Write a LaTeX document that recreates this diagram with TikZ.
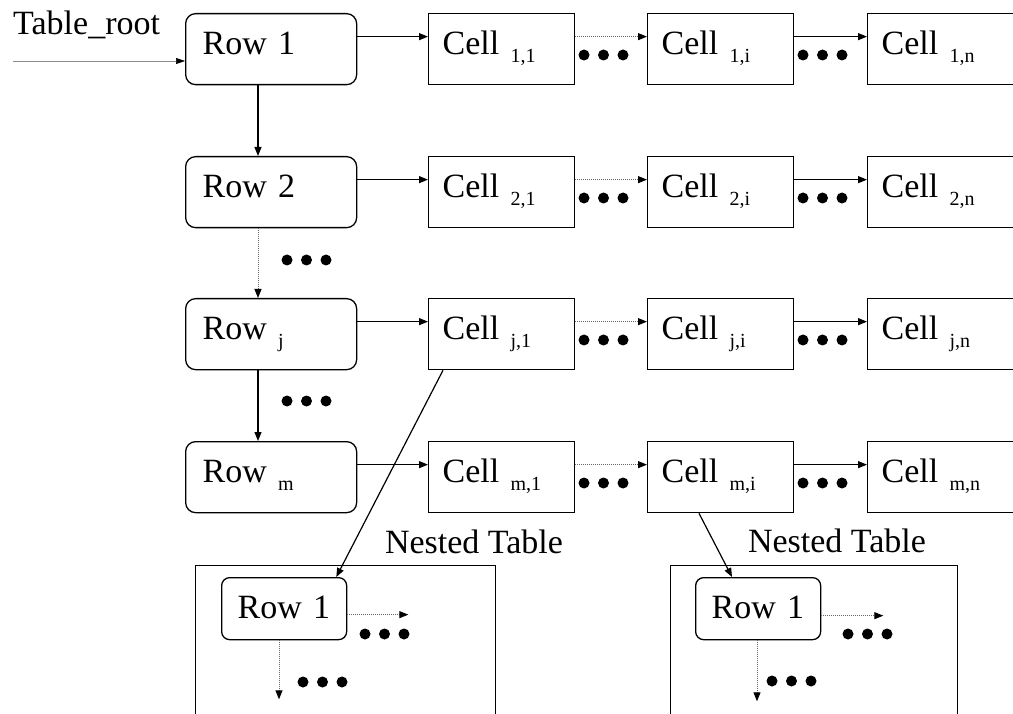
\documentclass[tikz,border=0pt]{standalone}
\usepackage{fontspec}
\setmainfont{Liberation Serif}
\usetikzlibrary{arrows.meta}
\newcommand\mysub[1]{\raisebox{-8pt}{\fontsize{20}{20}\selectfont #1}}
\newcommand\mydots[2]{\foreach \k in {0,1,2}{\fill ({#1+\k*19.5},{#2}) circle (5.5pt);}}
\begin{document}
\begin{tikzpicture}[x=1pt,y=-1pt,
  txt/.style={font=\fontsize{34}{36}\selectfont},
  rowbox/.style={draw, line width=1.3pt, rounded corners=10pt, anchor=north west,
    minimum width=171pt, minimum height=71pt, inner xsep=17pt, inner ysep=0pt,
    text width=137pt, align=left, text height=22pt, text depth=12pt, txt},
  cellbox/.style={draw, line width=1.3pt, anchor=north west,
    minimum width=146pt, minimum height=71pt, inner xsep=14pt, inner ysep=0pt,
    text width=118pt, align=left, text height=22pt, text depth=12pt, txt},
  nrow/.style={draw, line width=1.3pt, rounded corners=8pt, anchor=north west,
    minimum width=125pt, minimum height=62pt, inner xsep=16pt, inner ysep=0pt,
    text width=93pt, align=left, text height=27pt, text depth=7pt, txt},
  nbox/.style={draw, line width=1.3pt, anchor=north west, minimum height=200pt},
  arr/.style={-{Triangle[length=9pt,width=7pt]}, line width=1.2pt},
  darr/.style={-{Triangle[length=9pt,width=7pt,color=black]}, line width=1pt,
    draw=black!60, dash pattern=on 1pt off 1pt},
  garr/.style={-{Triangle[length=9pt,width=6pt,color=black]}, line width=0.6pt, draw=black!45}]
\useasboundingbox (0,0) rectangle (1013,714);

% rows
\node[rowbox] (r1) at (185,13) {Row 1};
\node[rowbox] (r2) at (185,156) {Row 2};
\node[rowbox] (rj) at (185,298) {Row \mysub{j}};
\node[rowbox] (rm) at (185,441) {Row \mysub{m}};

% cells
\foreach \r/\t/\s in {1/13/1, 2/156/2, j/298/j, m/441/m}{
  \node[cellbox] (c\r1) at (428,\t) {Cell \mysub{\s,1}};
  \node[cellbox] (c\r i) at (647,\t) {Cell \mysub{\s,i}};
  \node[cellbox, minimum width=145pt] (c\r n) at (867,\t) {Cell \mysub{\s,n}};
  \draw[arr] ([yshift=12.5pt]r\r.east) -- ([yshift=12.5pt]c\r1.west);
  \draw[darr] ([yshift=12.5pt]c\r1.east) -- ([yshift=12.5pt]c\r i.west);
  \draw[arr] ([yshift=12.5pt]c\r i.east) -- ([yshift=12.5pt]c\r n.west);
  \mydots{584}{\t+42}
  \mydots{803}{\t+42}
}

% table root
\node[txt, anchor=base west, inner sep=0pt] (troot) at (13,35) {Table\_root};
\coordinate (trs) at (13,61);
\draw[garr] (trs) -- (r1.west |- trs);

% vertical row links
\draw[arr] ([xshift=73pt]r1.south west) -- ([xshift=73pt]r2.north west);
\draw[darr] ([xshift=73pt]r2.south west) -- ([xshift=73pt]rj.north west);
\draw[arr] ([xshift=73pt]rj.south west) -- ([xshift=73pt]rm.north west);
\mydots{287}{260}
\mydots{287}{401}

% nested tables
\node[txt, anchor=base, inner sep=0pt] (nt1lab) at (474,553) {Nested Table};
\node[nbox, minimum width=300pt] (nt1) at (195,565) {};
\node[nrow] (n1r) at (221,577) {Row 1};
\draw[darr] ([yshift=-6pt]n1r.east) -- ++(61,0);
\draw[darr] ([xshift=58pt]n1r.south west) -- ++(0,59);
\mydots{365}{634}
\mydots{303}{682}

\node[txt, anchor=base, inner sep=0pt] (nt2lab) at (837,552) {Nested Table};
\node[nbox, minimum width=287pt] (nt2) at (670,565) {};
\node[nrow] (n2r) at (695,577) {Row 1};
\draw[darr] ([yshift=-7pt]n2r.east) -- ++(62,0);
\draw[darr] ([xshift=62pt]n2r.south west) -- ++(0,61);
\mydots{848}{634}
\mydots{772}{681}

% nested links
\draw[arr] ([xshift=15pt]cj1.south west) -- ([xshift=-11pt]n1r.north east);
\draw[arr] ([xshift=52pt]cmi.south west) -- ([xshift=37pt]n2r.north west);
\end{tikzpicture}
\end{document}
